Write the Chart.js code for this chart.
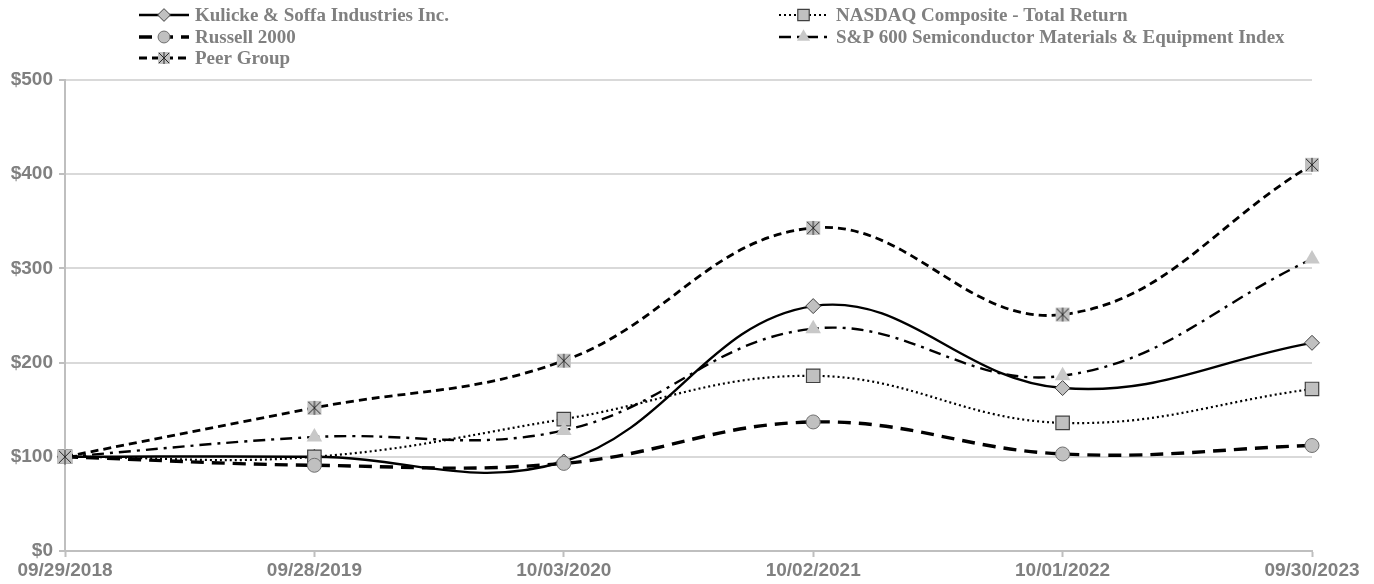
<!DOCTYPE html>
<html>
<head>
<meta charset="utf-8">
<script src="https://cdn.jsdelivr.net/npm/chart.js@4"></script>
<style>
  html, body { margin: 0; padding: 0; background: #ffffff; }
  #wrap { position: relative; width: 1374px; height: 584px; }
</style>
</head>
<body>
<div id="wrap"><canvas id="c"></canvas></div>
<script>
// Fiscal year-end dates
const periods = ['09/29/2018', '09/28/2019', '10/03/2020', '10/02/2021', '10/01/2022', '09/30/2023'];

// Cumulative value of a $100 investment
const kulicke = [100, 100, 95, 260, 173, 221];
const nasdaq = [100, 100, 140, 186, 136, 172];
const russell = [100, 91, 93, 137, 103, 112];
const spSemi = [100, 121, 128, 236, 186, 310];
const peerGroup = [100, 152, 202, 343, 251, 410];

const yTicks = [0, 100, 200, 300, 400, 500];

const MARK_FILL = '#c0c0c0';
const MARK_EDGE = '#404040';
const TEXT_GREY = '#808080';

// Asterisk-on-square marker used for the peer group
function asteriskMarker(size) {
  const c = document.createElement('canvas');
  c.width = size; c.height = size;
  const g = c.getContext('2d');
  const e = size - 1;
  g.fillStyle = MARK_FILL;
  g.fillRect(1, 1, size - 2, size - 2);
  g.strokeStyle = '#262626';
  g.lineWidth = 1;
  g.beginPath();
  g.moveTo(2, 2); g.lineTo(e - 1, e - 1);
  g.moveTo(e - 1, 2); g.lineTo(2, e - 1);
  g.moveTo(size / 2, 1); g.lineTo(size / 2, e);
  g.stroke();
  return c;
}

const series = [
  { label: 'Kulicke & Soffa Industries Inc.', data: kulicke, dash: [], width: 2.4,
    pointStyle: 'rectRot', radius: 7.5, pbw: 1, fill: MARK_FILL, edge: MARK_EDGE, col: 0, row: 0 },
  { label: 'NASDAQ Composite - Total Return', data: nasdaq, dash: [2, 3], width: 2.2,
    pointStyle: 'rect', radius: 9.5, pbw: 1.2, fill: MARK_FILL, edge: MARK_EDGE, col: 1, row: 0 },
  { label: 'Russell 2000', data: russell, dash: [13, 8], width: 3.4,
    pointStyle: 'circle', radius: 7, pbw: 1, fill: MARK_FILL, edge: '#707070', col: 0, row: 1 },
  { label: 'S&P 600 Semiconductor Materials & Equipment Index', data: spSemi, dash: [12, 6, 3, 6], width: 2.4,
    pointStyle: 'triangle', radius: 9, pbw: 0, fill: '#c8c8c8', edge: '#c8c8c8', col: 1, row: 1 },
  { label: 'Peer Group', data: peerGroup, dash: [8, 5], width: 2.8,
    pointStyle: asteriskMarker(16), legendStyle: asteriskMarker(14), radius: 8, pbw: 0,
    fill: MARK_FILL, edge: MARK_EDGE, col: 0, row: 2 }
];

// Two-column legend drawn above the plot
const legendPlugin = {
  id: 'twoColLegend',
  afterDraw(chart) {
    const ctx = chart.ctx;
    const cols = [{ x0: 139, x1: 189, text: 195 }, { x0: 779, x1: 828, text: 836 }];
    const rows = [15, 37, 58];
    ctx.save();
    series.forEach(s => {
      const c = cols[s.col];
      const y = rows[s.row];
      const mx = (c.x0 + c.x1) / 2;
      ctx.strokeStyle = '#000000';
      ctx.lineWidth = s.width;
      ctx.setLineDash(s.dash);
      ctx.beginPath();
      ctx.moveTo(c.x0, y); ctx.lineTo(c.x1, y);
      ctx.stroke();
      ctx.setLineDash([]);
      ctx.fillStyle = s.fill;
      ctx.strokeStyle = s.edge;
      ctx.lineWidth = s.pbw;
      Chart.helpers.drawPoint(ctx, {
        pointStyle: s.legendStyle || s.pointStyle, rotation: 0, radius: s.radius * 0.85, borderWidth: s.pbw
      }, mx, y);
      ctx.fillStyle = TEXT_GREY;
      ctx.font = 'bold 19px "Liberation Serif", "Times New Roman", serif';
      ctx.textBaseline = 'middle';
      ctx.textAlign = 'left';
      ctx.fillText(s.label, c.text, y + 1);
    });
    ctx.restore();
  }
};

new Chart(document.getElementById('c'), {
  type: 'line',
  data: {
    labels: periods,
    datasets: series.map(s => ({
      label: s.label,
      data: s.data,
      borderColor: '#000000',
      borderWidth: s.width,
      borderDash: s.dash,
      tension: 0.4,
      fill: false,
      pointStyle: s.pointStyle,
      pointRadius: s.radius,
      pointHoverRadius: s.radius,
      pointBackgroundColor: s.fill,
      pointBorderColor: s.edge,
      pointBorderWidth: s.pbw
    })).reverse()
  },
  options: {
    responsive: true,
    maintainAspectRatio: false,
    animation: false,
    layout: { padding: { top: 80, right: 62, left: 0, bottom: 0 } },
    plugins: { legend: { display: false }, tooltip: { enabled: false } },
    scales: {
      x: {
        offset: false,
        grid: { drawOnChartArea: false, drawTicks: true, tickLength: 6, tickColor: '#bfbfbf', tickWidth: 2 },
        border: { display: true, color: '#bfbfbf', width: 2 },
        ticks: {
          color: TEXT_GREY, padding: 2, maxRotation: 0, autoSkip: false,
          font: { family: '"Liberation Sans", Arial, sans-serif', size: 19, weight: 'bold' }
        },
        afterFit(scale) { scale.height = 33; }
      },
      y: {
        min: 0, max: 500,
        afterBuildTicks(scale) { scale.ticks = yTicks.map(v => ({ value: v })); },
        grid: { color: '#d9d9d9', lineWidth: 2, drawTicks: true, tickLength: 6, tickColor: '#bfbfbf', tickWidth: 2 },
        border: { display: true, color: '#bfbfbf', width: 2 },
        ticks: {
          color: TEXT_GREY, padding: 6,
          font: { family: '"Liberation Sans", Arial, sans-serif', size: 19, weight: 'bold' },
          callback: v => '$' + v
        },
        afterFit(scale) { scale.width = 65; }
      }
    }
  },
  plugins: [legendPlugin]
});
</script>
</body>
</html>
